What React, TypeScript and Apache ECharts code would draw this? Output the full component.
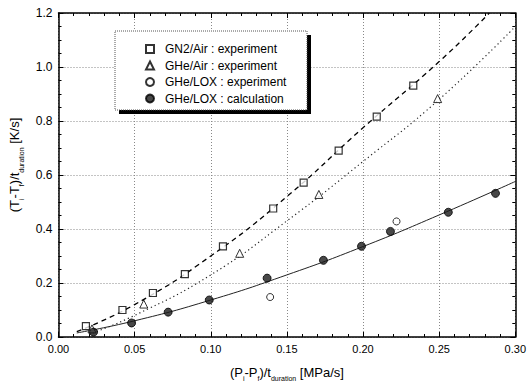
import React, { useEffect, useRef } from "react";
import * as echarts from "echarts";

// GN2/Air : experiment (squares)
const gn2AirX = [0.018, 0.042, 0.062, 0.083, 0.108, 0.141, 0.161, 0.184, 0.209, 0.233];
const gn2AirY = [0.04, 0.10, 0.163, 0.233, 0.336, 0.476, 0.572, 0.69, 0.816, 0.931];
// GHe/Air : experiment (triangles)
const gheAirX = [0.022, 0.056, 0.119, 0.171, 0.249];
const gheAirY = [0.03, 0.122, 0.31, 0.528, 0.883];
// GHe/LOX : experiment (open circles)
const gheLoxExpX = [0.139, 0.222];
const gheLoxExpY = [0.148, 0.428];
// GHe/LOX : calculation (filled circles)
const gheLoxCalcX = [0.023, 0.048, 0.072, 0.099, 0.137, 0.174, 0.199, 0.218, 0.256, 0.287];
const gheLoxCalcY = [0.018, 0.052, 0.092, 0.137, 0.218, 0.284, 0.336, 0.391, 0.462, 0.532];

// Fitted curves
const dashX = [0.012, 0.05, 0.10, 0.15, 0.20, 0.25, 0.283];
const dashY = [0.02, 0.12, 0.30, 0.52, 0.775, 1.02, 1.2];
const dotX = [0.02, 0.05, 0.10, 0.15, 0.20, 0.25, 0.30];
const dotY = [0.01, 0.08, 0.23, 0.43, 0.65, 0.88, 1.15];
const solidX = [0.012, 0.05, 0.10, 0.15, 0.20, 0.25, 0.30];
const solidY = [0.015, 0.06, 0.137, 0.23, 0.335, 0.452, 0.576];

const xTicks = [0, 0.05, 0.1, 0.15, 0.2, 0.25, 0.3];
const yTicks = [0, 0.2, 0.4, 0.6, 0.8, 1.0, 1.2];

const legendNames = [
  "GN2/Air : experiment",
  "GHe/Air : experiment",
  "GHe/LOX : experiment",
  "GHe/LOX : calculation",
];

const zip = (xs: number[], ys: number[]) => xs.map((x, i) => [x, ys[i]]);

const FONT = "Liberation Sans";

export default function App() {
  const ref = useRef<HTMLDivElement>(null);
  useEffect(() => {
    if (!ref.current) return;
    const chart = echarts.init(ref.current, null, { renderer: "svg" });
    const sub = { fontSize: 7, lineHeight: 8, verticalAlign: "bottom", fontFamily: FONT, color: "#000" };
    const nrm = { fontSize: 13, lineHeight: 20, verticalAlign: "middle", fontFamily: FONT, color: "#000" };
    const axisCommon = {
      axisLine: { show: true, onZero: false, lineStyle: { color: "#000", width: 1.5 } },
      axisTick: { inside: true, length: 5, lineStyle: { color: "#000" } },
      minorTick: { show: true, length: 3, lineStyle: { color: "#000" } },
    };
    chart.setOption({
      animation: false,
      backgroundColor: "#fff",
      grid: { left: 56, right: 10, top: 13, bottom: 49 },
      xAxis: [
        {
          type: "value",
          min: xTicks[0],
          max: xTicks[xTicks.length - 1],
          interval: 0.05,
          ...axisCommon,
          minorTick: { ...axisCommon.minorTick, splitNumber: 5 },
          axisLabel: {
            formatter: (v: number) => v.toFixed(2),
            fontSize: 11,
            fontFamily: FONT,
            color: "#000",
            margin: 6,
          },
          splitLine: { show: true, lineStyle: { color: "#888", type: [1, 2], width: 1 } },
          name: "{n|(P}{s|i}{n|-P}{s|f}{n|)/t}{s|duration}{n| [MPa/s]}",
          nameLocation: "middle",
          nameGap: 25,
          nameTextStyle: { rich: { n: nrm, s: sub } },
        },
        {
          type: "value",
          position: "top",
          min: 0,
          max: 0.3,
          interval: 0.05,
          ...axisCommon,
          minorTick: { ...axisCommon.minorTick, splitNumber: 5 },
          axisLabel: { show: false },
          splitLine: { show: false },
        },
      ],
      yAxis: [
        {
          type: "value",
          min: yTicks[0],
          max: yTicks[yTicks.length - 1],
          interval: 0.2,
          ...axisCommon,
          minorTick: { ...axisCommon.minorTick, splitNumber: 4 },
          axisLabel: {
            formatter: (v: number) => v.toFixed(1),
            fontSize: 12,
            fontFamily: FONT,
            color: "#000",
            margin: 6,
          },
          splitLine: { show: true, lineStyle: { color: "#888", type: [1, 2], width: 1 } },
          name: "{n|(T}{s|i}{n|-T}{s|f}{n|)/t}{s|duration}{n| [K/s]}",
          nameLocation: "middle",
          nameRotate: 90,
          nameGap: 34,
          nameTextStyle: { rich: { n: nrm, s: sub }, padding: [0, 0, 0, 20] },
        },
        {
          type: "value",
          position: "right",
          min: 0,
          max: 1.2,
          interval: 0.2,
          ...axisCommon,
          minorTick: { ...axisCommon.minorTick, splitNumber: 4 },
          axisLabel: { show: false },
          splitLine: { show: false },
        },
      ],
      legend: {
        data: legendNames,
        orient: "vertical",
        left: 140,
        top: 38,
        itemWidth: 8,
        itemHeight: 8,
        itemGap: 4.5,
        textStyle: { fontSize: 12, fontFamily: FONT, color: "#000", padding: [0, 0, 0, 6] },
        z: 10,
      },
      graphic: [
        { type: "rect", shape: { x: 119, y: 35, width: 192, height: 79 }, style: { fill: "#000" }, z: 5 },
        {
          type: "rect",
          shape: { x: 115, y: 31, width: 192, height: 79 },
          style: { fill: "#fff", stroke: "#555", lineWidth: 1, lineDash: [1, 1] },
          z: 6,
        },
      ],
      series: [
        {
          type: "line",
          data: zip(dashX, dashY),
          smooth: true,
          symbol: "none",
          lineStyle: { color: "#000", width: 1.3, type: [5, 4] },
          silent: true,
          clip: true,
        },
        {
          type: "line",
          data: zip(dotX, dotY),
          smooth: true,
          symbol: "none",
          lineStyle: { color: "#222", width: 1.2, type: [1.2, 3] },
          silent: true,
          clip: true,
        },
        {
          type: "line",
          data: zip(solidX, solidY),
          smooth: true,
          symbol: "none",
          lineStyle: { color: "#222", width: 1 },
          silent: true,
          clip: true,
        },
        {
          name: legendNames[0],
          type: "scatter",
          data: zip(gn2AirX, gn2AirY),
          symbol: "rect",
          symbolSize: 7,
          itemStyle: { color: "#fff", borderColor: "#000", borderWidth: 1.2 },
          z: 5,
        },
        {
          name: legendNames[1],
          type: "scatter",
          data: zip(gheAirX, gheAirY),
          symbol: "triangle",
          symbolSize: 8,
          itemStyle: { color: "#fff", borderColor: "#000", borderWidth: 1 },
          z: 5,
        },
        {
          name: legendNames[2],
          type: "scatter",
          data: zip(gheLoxExpX, gheLoxExpY),
          symbol: "circle",
          symbolSize: 7,
          itemStyle: { color: "#fff", borderColor: "#000", borderWidth: 1 },
          z: 5,
        },
        {
          name: legendNames[3],
          type: "scatter",
          data: zip(gheLoxCalcX, gheLoxCalcY),
          symbol: "circle",
          symbolSize: 8,
          itemStyle: { color: "#1a1a1a", borderColor: "#000", borderWidth: 1 },
          z: 5,
        },
      ],
    });
    return () => chart.dispose();
  }, []);
  return <div ref={ref} style={{ width: 529, height: 387, position: "absolute", left: 0, top: 0 }} />;
}
